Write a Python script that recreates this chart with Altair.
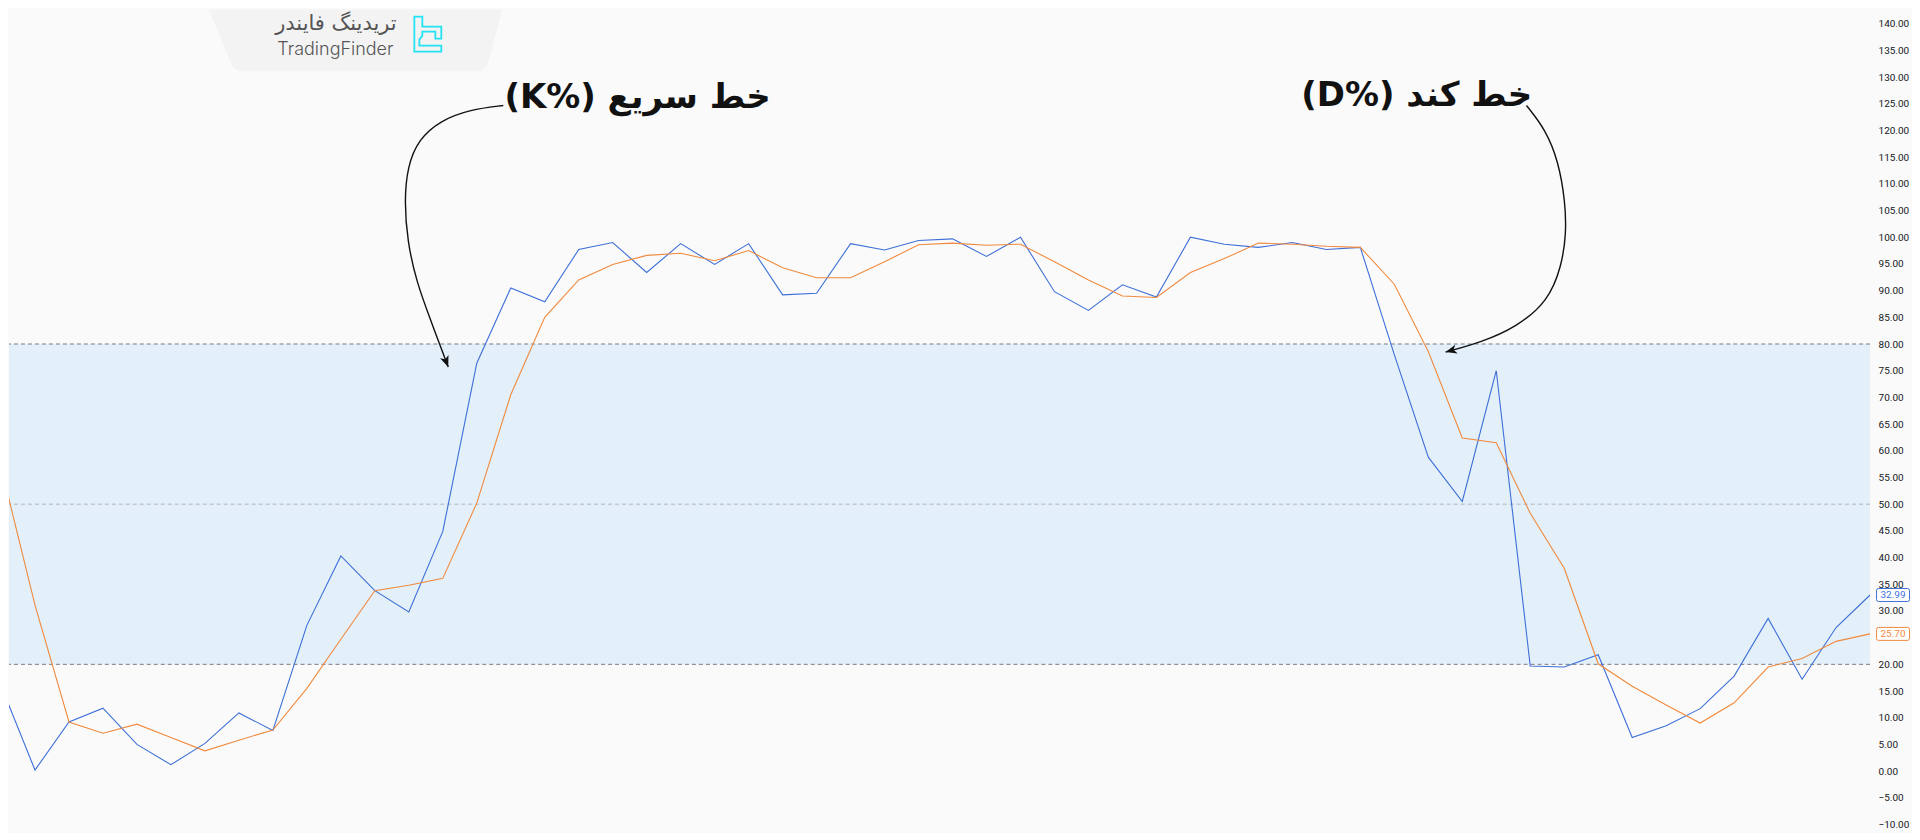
import altair as alt
import pandas as pd

# ---------------- data ----------------
index = list(range(56))
k_values = [16.0, 0.2, 9.2, 11.8, 5.0, 1.2, 5.2, 10.9, 7.6, 27.3, 40.3, 33.8, 29.8, 44.9,
            76.4, 90.5, 87.9, 97.7, 99.0, 93.4, 98.8, 94.9, 98.8, 89.2, 89.5, 98.8, 97.6,
            99.4, 99.7, 96.4, 100.0, 89.8, 86.3, 91.1, 88.8, 100.0, 98.7, 98.1, 99.0, 97.7,
            98.1, 78.0, 58.8, 50.5, 75.0, 19.7, 19.5, 21.8, 6.3, 8.5, 11.7, 17.8, 28.6,
            17.2, 26.9, 32.99]
d_values = [57.0, 31.1, 9.2, 7.1, 8.8, 6.3, 3.8, 5.8, 7.7, 15.5, 24.7, 33.8, 34.8, 36.1,
            50.2, 70.5, 85.0, 92.0, 94.9, 96.6, 97.0, 95.6, 97.5, 94.3, 92.4, 92.4, 95.4,
            98.6, 98.9, 98.5, 98.7, 95.4, 92.0, 89.0, 88.7, 93.4, 96.0, 98.9, 98.7, 98.3,
            98.1, 91.2, 78.6, 62.4, 61.5, 48.3, 38.0, 20.1, 15.9, 12.4, 9.0, 12.8, 19.5,
            21.1, 24.3, 25.70]

# 25.00 is hidden behind the last-value box in the reference
y_ticks = [v for v in range(-10, 145, 5) if v != 25]
band_low, band_high = 20, 80
levels = [80, 50, 20]
level_opacity = [1.0, 0.5, 1.0]

last_labels = ["32.99", "25.70"]
last_values = [32.99, 25.70]

# annotation arrows (in data space: index, value)
arrow_k_x = [14.78, 13.81, 12.93, 12.28, 11.96, 11.87, 11.96, 12.22, 12.63, 13.16]
arrow_k_y = [124.68, 123.93, 121.87, 118.30, 113.25, 106.72, 99.24, 91.76, 84.66, 75.68]
arrow_d_x = [44.89, 45.45, 45.83, 46.03, 46.06, 45.92, 45.53, 44.57, 43.57, 42.51]
arrow_d_y = [124.67, 120.18, 114.2, 106.7, 100.55, 94.57, 88.0, 83.07, 80.36, 78.49]
head_angles = [339.4, 74.5]

note_texts = ["(K%) خط سریع", "(D%) خط کند"]
note_x = [18.73, 41.66]
note_y = [126.0, 126.5]

logo_fa = "تریدینگ فایندر"
logo_en = "TradingFinder"

# ---------------- styling ----------------
BLUE = "#3d6fd8"
ORANGE = "#f08a3e"
W, H = 1864, 824
x_domain = [0.235, 55.0]
y_domain = [-11.47, 142.63]

xs = alt.Scale(domain=x_domain, nice=False, zero=False)
ys = alt.Scale(domain=y_domain, nice=False, zero=False)
yaxis = alt.Axis(orient="right", values=y_ticks, format=".2f", labelFont="Roboto",
                 labelFontSize=10, labelColor="#131722", labelPadding=8, ticks=False,
                 domain=False, grid=False, title=None, labelOverlap=False)


def X(f):
    return alt.X(f, type="quantitative", scale=xs, axis=None)


def Y(f):
    return alt.Y(f, type="quantitative", scale=ys, axis=yaxis)


df = pd.DataFrame({"i": index, "K": k_values, "D": d_values})

# logo panel
logo_df = pd.DataFrame({"x": [10.43], "y": [136.84]})
panel_path = "M-147,-31 L147,-31 L133,22 Q130,31 120,31 L-112,31 Q-122,31 -125,22 Z"
panel = alt.Chart(logo_df).mark_point(shape=panel_path, size=4, filled=True,
                                      fill="#f3f3f3", strokeWidth=0, opacity=1).encode(
    x=X("x"), y=Y("y"))

icon_df = pd.DataFrame({"x": [12.56], "y": [138.05]})
icon_path = ("M-13.5,-17.5 L-5.5,-17.5 L-5.5,-7.5 L13.5,-7.5 L13.5,4.5 L7.5,4.5 L7.5,-2.5 "
             "L-5.5,-2.5 L-5.5,1.5 L-8.5,5.5 L-8.5,11.5 L13.5,11.5 L13.5,17.5 L-13.5,17.5 Z")
icon = alt.Chart(icon_df).mark_point(shape=icon_path, size=4, filled=False,
                                     stroke="#22e2f4", strokeWidth=1.8, opacity=1).encode(
    x=X("x"), y=Y("y"))

logo_txt_df = pd.DataFrame({"x": [9.856, 9.84], "y": [139.9, 135.06], "t": [logo_fa, logo_en]})
logo_fa_txt = alt.Chart(logo_txt_df.iloc[[0]]).mark_text(
    font="DejaVu Sans", fontSize=21, color="#555555", align="center", baseline="middle").encode(
    x=X("x"), y=Y("y"), text="t:N")
logo_en_txt = alt.Chart(logo_txt_df.iloc[[1]]).mark_text(
    font="Inter", fontSize=18, fontWeight=300, color="#555555", align="center",
    baseline="middle").encode(x=X("x"), y=Y("y"), text="t:N")

# band
band_df = pd.DataFrame({"x0": [x_domain[0]], "x1": [x_domain[1]], "y0": [band_low], "y1": [band_high]})
band = alt.Chart(band_df).mark_rect(color="#2196F3", opacity=0.1).encode(
    x=X("x0"), x2="x1", y=Y("y0"), y2="y1")

rules_df = pd.DataFrame({"lvl": levels, "op": level_opacity})
rules = alt.Chart(rules_df).mark_rule(color="#787B86", strokeDash=[4, 3], strokeWidth=1).encode(
    y=Y("lvl"), opacity=alt.Opacity("op:Q", scale=None))

k_line = alt.Chart(df).mark_line(color=BLUE, strokeWidth=1.1, clip=True).encode(x=X("i"), y=Y("K"))
d_line = alt.Chart(df).mark_line(color=ORANGE, strokeWidth=1.1, clip=True).encode(x=X("i"), y=Y("D"))

# last value boxes
last_df = pd.DataFrame({"i": [index[-1]] * 2, "v": last_values, "t": last_labels,
                        "c": [BLUE, ORANGE]})
box_path = ("M-14.5,-6.5 L14.5,-6.5 Q16.5,-6.5 16.5,-4.5 L16.5,4.5 Q16.5,6.5 14.5,6.5 "
            "L-14.5,6.5 Q-16.5,6.5 -16.5,4.5 L-16.5,-4.5 Q-16.5,-6.5 -14.5,-6.5 Z")
boxes = alt.Chart(last_df).mark_point(shape=box_path, size=4, fill="#ffffff", filled=True,
                                      strokeWidth=1, opacity=1, xOffset=23).encode(
    x=X("i"), y=Y("v"), stroke=alt.Stroke("c:N", scale=None))
box_txt = alt.Chart(last_df).mark_text(font="Roboto", fontSize=10, dx=23, align="center",
                                       baseline="middle").encode(
    x=X("i"), y=Y("v"), text="t:N", color=alt.Color("c:N", scale=None))

# arrows
arr_rows = []
for j, (xx, yy) in enumerate(zip(arrow_k_x, arrow_k_y)):
    arr_rows.append({"id": "k", "o": j, "x": xx, "y": yy})
for j, (xx, yy) in enumerate(zip(arrow_d_x, arrow_d_y)):
    arr_rows.append({"id": "d", "o": j, "x": xx, "y": yy})
arr_df = pd.DataFrame(arr_rows)
arrows = alt.Chart(arr_df).mark_line(color="#111111", strokeWidth=1.4, interpolate="basis").encode(
    x=X("x"), y=Y("y"), detail="id:N", order="o:Q")

heads_df = pd.DataFrame({"x": [arrow_k_x[-1], arrow_d_x[-1]], "y": [arrow_k_y[-1], arrow_d_y[-1]],
                         "a": head_angles})
head_path = "M0,0 L-0.6,-1.5 L0,-1.1 L0.6,-1.5 Z"
heads = alt.Chart(heads_df).mark_point(shape=head_path, size=225, filled=True, color="#111111",
                                       opacity=1).encode(
    x=X("x"), y=Y("y"), angle=alt.Angle("a:Q", scale=None))

notes_df = pd.DataFrame({"x": note_x, "y": note_y, "t": note_texts})
notes = alt.Chart(notes_df).mark_text(font="DejaVu Sans", fontSize=34, fontWeight="bold",
                                      color="#111111", align="center", baseline="middle").encode(
    x=X("x"), y=Y("y"), text="t:N")

chart = alt.layer(panel, icon, logo_fa_txt, logo_en_txt, band, rules, k_line, d_line,
                  boxes, box_txt, arrows, heads, notes).properties(
    width=W, height=H, padding=0, background="#fafafa"
).configure_view(stroke=None)

chart.save("out.html", embed_options={"renderer": "svg", "actions": False})
